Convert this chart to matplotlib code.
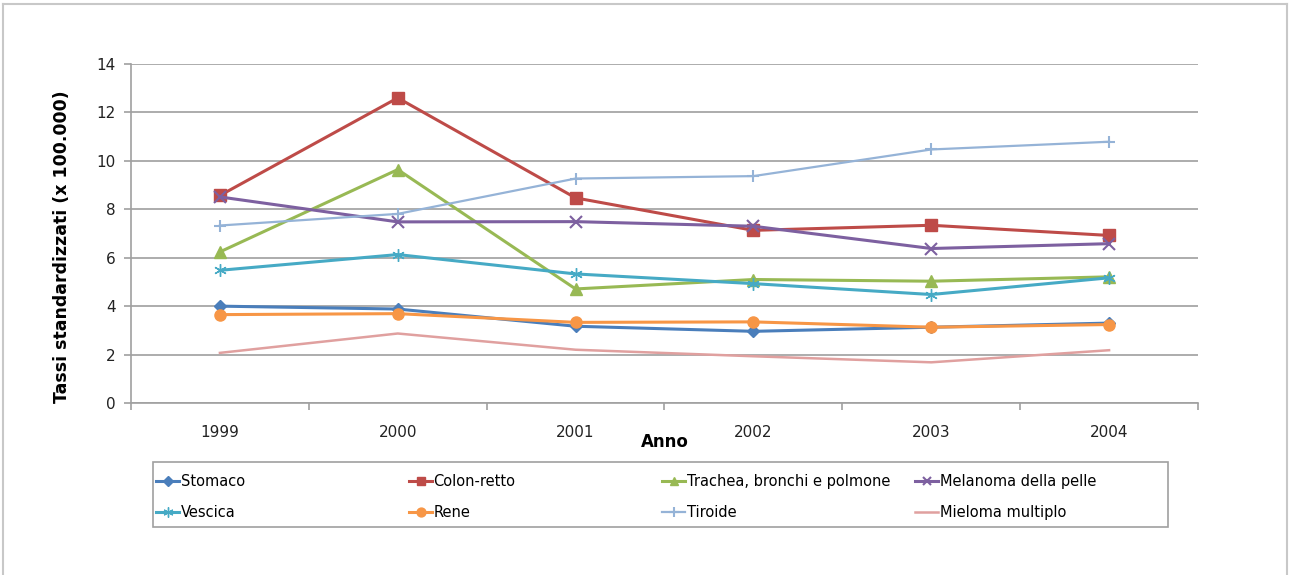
import numpy as np
import matplotlib.pyplot as plt
from matplotlib.lines import Line2D
from matplotlib.patches import Rectangle

# Data
anni = ['1999', '2000', '2001', '2002', '2003', '2004']
stomaco = [4.0, 3.88, 3.17, 2.96, 3.13, 3.3]
colon_retto = [8.57, 12.6, 8.47, 7.13, 7.34, 6.92]
trachea = [6.24, 9.64, 4.71, 5.1, 5.03, 5.21]
melanoma = [8.51, 7.48, 7.49, 7.3, 6.38, 6.58]
vescica = [5.48, 6.13, 5.33, 4.93, 4.48, 5.17]
rene = [3.65, 3.69, 3.33, 3.35, 3.13, 3.24]
tiroide = [7.33, 7.81, 9.27, 9.37, 10.47, 10.79]
mieloma = [2.07, 2.87, 2.2, 1.93, 1.68, 2.18]

serie = [
    ('Stomaco', stomaco, '#4A7EBB', 'D', 6, 2.2),
    ('Colon-retto', colon_retto, '#BE4B48', 's', 8, 2.2),
    ('Trachea, bronchi e polmone', trachea, '#98B954', '^', 8, 2.2),
    ('Melanoma della pelle', melanoma, '#7D60A0', 'x', 8, 2.2),
    ('Vescica', vescica, '#46AAC5', (6, 2, 0), 9, 2.2),
    ('Rene', rene, '#F79646', 'o', 8, 2.2),
    ('Tiroide', tiroide, '#95B3D7', '+', 9, 1.6),
    ('Mieloma multiplo', mieloma, '#E0A09F', 'None', 0, 1.8),
]

fig = plt.figure(figsize=(12.9, 5.75), dpi=100)
ax = fig.add_axes([131 / 1290, 1 - 403 / 575, 1067 / 1290, 339 / 575])

x = np.arange(len(anni))
handles = []
for nome, valori, colore, marker, ms, lw in serie:
    (h,) = ax.plot(x, valori, color=colore, marker=marker, markersize=ms,
                   linewidth=lw, markeredgewidth=1.5 if marker in ('x', '+') else 1,
                   label=nome, zorder=3)
    handles.append(h)

ax.set_xlim(-0.5, len(anni) - 0.5)
ax.set_ylim(0, 14)
ax.set_yticks(np.arange(0, 15, 2))
ax.set_xticks(x)
ax.set_xticklabels(anni)
ax.set_xticks(np.arange(-0.5, len(anni), 1), minor=True)
ax.tick_params(axis='x', which='major', length=0, pad=16, labelsize=11, labelcolor='#222222')
ax.tick_params(axis='x', which='minor', length=5, color='#A0A0A0', width=1.2)
ax.tick_params(axis='y', length=5, color='#A0A0A0', width=1.2, labelsize=11,
               labelcolor='#222222', pad=6)

ax.grid(axis='y', color='#A6A6A6', linewidth=1.3)
ax.set_axisbelow(True)
for lato in ('top', 'right'):
    ax.spines[lato].set_visible(False)
for lato in ('left', 'bottom'):
    ax.spines[lato].set_color('#A0A0A0')
    ax.spines[lato].set_linewidth(1.2)

ax.set_ylabel('Tassi standardizzati (x 100.000)', fontsize=12.5, fontweight='bold')
ax.yaxis.set_label_coords(-0.056, 0.46)
ax.set_xlabel('Anno', fontsize=12, fontweight='bold', labelpad=-5)

# Legend: four columns, evenly spaced, inside one frame
fig.patches.append(Rectangle((153 / 1290, 1 - 527 / 575), 1015 / 1290, 65 / 575,
                             transform=fig.transFigure, facecolor='white',
                             edgecolor='#A0A0A0', linewidth=1.2, zorder=0))
colonne = [(0, 4), (1, 5), (2, 6), (3, 7)]
for i, (a, b) in enumerate(colonne):
    fig.legend([handles[a], handles[b]], [serie[a][0], serie[b][0]],
               loc='upper left', bbox_to_anchor=((150 + 253 * i) / 1290, 1 - 468 / 575),
               frameon=False, fontsize=10.5, handlelength=1.6, handletextpad=0.1,
               labelspacing=1.1, borderaxespad=0, markerscale=0.8)

# Outer chart border
for xs, ys in [((3, 3), (4, 575)), ((3, 1287), (4, 4)), ((1287, 1287), (4, 575))]:
    fig.add_artist(Line2D([v / 1290 for v in xs], [1 - v / 575 for v in ys],
                          color='#C8C8C8', linewidth=1.5, transform=fig.transFigure))

fig.savefig('out.png', dpi=100)
